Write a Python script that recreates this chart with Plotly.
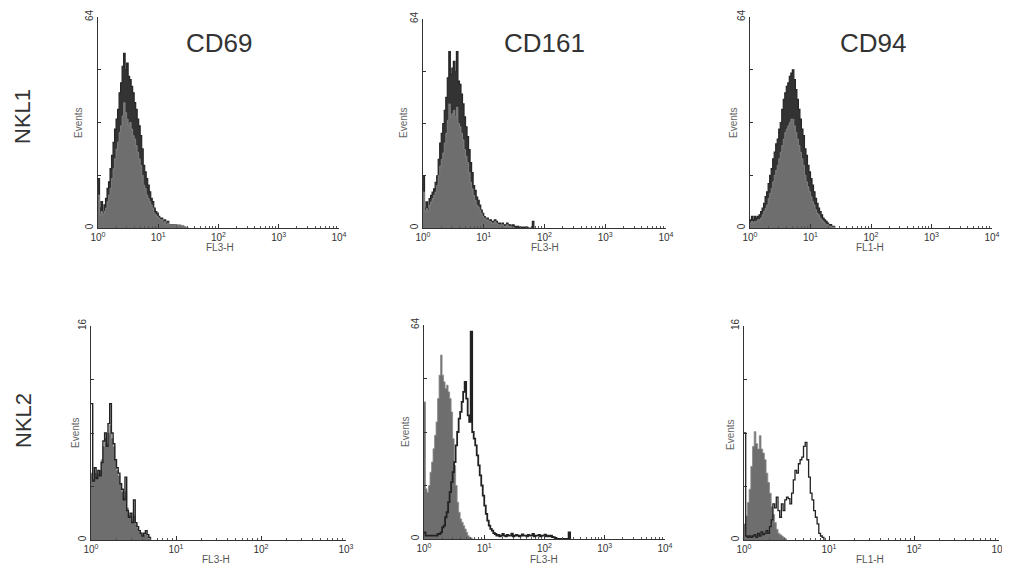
import plotly.graph_objects as go

# the page puts the figure 8px in from the top-left corner of the window
PAGE_PAD = 8
W, H = 1010 - PAGE_PAD, 570 - PAGE_PAD

# channel width in decades (histogram bins start at 10^0)
STEP_4DEC = 0.025
STEP_3DEC = 0.02

# ---- NKL1 row (counts per channel) ----
nkl1_cd69_stain = [15, 6, 8, 5, 7, 9, 12, 14, 18, 22, 26, 30, 33, 36, 41, 44, 49, 53, 48, 50,
                   46, 45, 43, 41, 38, 36, 33, 31, 28, 24, 19, 17, 15, 13, 11, 9, 8, 6, 5, 4.5,
                   3.5, 3, 3, 2, 2.5, 1.5, 2, 1, 1, 1, 0.5, 1, 0.5, 0.5, 0.5, 0.3, 0.3, 0, 0, 0, 0]
nkl1_cd69_ctrl = [10, 4, 5, 4, 5, 6, 8, 10, 12, 15, 18, 21, 24, 26, 29, 31, 34, 38, 35, 33,
                  31, 32, 30, 28, 27, 25, 23, 21, 19, 16, 13, 12, 10, 9, 8, 7, 6, 4.5, 4, 3.5,
                  3, 2.5, 2.5, 1.5, 2, 1, 1.5, 1, 1, 1, 1, 1, 1, 1, 1, 0.8, 0.8, 0.5, 0.3, 0, 0]

nkl1_cd161_stain = [16, 6, 8, 6, 9, 10, 11, 12, 14, 16, 21, 26, 29, 32, 36, 40, 46, 54, 47, 49,
                    51, 48, 54, 45, 44, 41, 38, 34, 31, 28, 24, 20, 17, 13, 11.5, 9.5, 8.5, 7, 5.5, 4.5,
                    3.5, 2.5, 3, 2, 2.5, 2, 2, 2.5, 2, 1.5, 1.5, 1, 1.5, 1, 1, 1.5, 1, 1, 0.5, 1,
                    0.5, 0.5, 0.5, 0.3, 0.3, 0.3, 0.3, 0.3, 0.3, 0, 0, 0, 2, 0]
nkl1_cd161_ctrl = [11, 5, 6, 5, 7, 8, 9, 10, 11, 13, 16, 19, 21, 23, 26, 29, 33, 38, 34, 35,
                   36, 34, 37, 32, 31, 29, 27, 24, 22, 20, 17, 14, 12, 10, 8.5, 7, 6.5, 5.5, 4.5, 3.5,
                   3, 2.5, 2.5, 2, 2, 1.5, 1.5, 2, 1.5, 1, 1, 1, 1, 0.5, 0.5, 1, 0.5, 0.5, 0.3, 0.3, 0]

nkl1_cd94_stain = [2.5, 3.5, 2.5, 3.5, 3, 3.5, 4, 5, 6, 7.5, 9.5, 11, 13.5, 16, 18, 21, 23, 25.5, 27, 30,
                   32, 36, 39, 41, 43, 44, 46, 47, 48, 45, 42, 39, 36, 33, 30, 28, 24, 22, 19, 17,
                   15, 13, 11, 9, 7.5, 6, 5, 4, 3, 2.5, 2, 1.5, 1, 1, 0.5, 0.5, 0]
nkl1_cd94_ctrl = [1.5, 2, 1.5, 2, 2, 2.5, 2.5, 3, 4, 5, 6, 7, 9, 10.5, 12, 14, 16, 17.5, 19, 21,
                  23, 25, 27, 29, 30, 31, 32, 33, 33, 31, 29, 27, 25, 23, 21, 19, 16, 14, 12.5, 11,
                  9.5, 8, 7, 5.5, 4.5, 4, 3, 2.5, 2, 1.5, 1, 1, 0.5, 0.5, 0.3, 0.3, 0]

# ---- NKL2 row ----
nkl2_cd69_stain = [10.2, 4.4, 5.4, 4.6, 5.2, 4.8, 5.8, 7.4, 8, 7, 8.7, 10.2, 8, 7.2, 6, 5.4, 5, 4.2,
                   3.8, 3, 4.7, 2.2, 1.7, 2, 1.3, 3, 1.3, 1, 0.7, 0.5, 0.3, 0.5, 0.7, 0.4, 0.2, 0]
nkl2_cd69_ctrl = [5, 4.5, 5, 4.8, 5, 5.2, 6, 7, 7.6, 7.2, 8, 8.6, 7.6, 7, 6, 5.2, 4.8, 4.2,
                  3.6, 3.2, 3.6, 2.4, 1.8, 1.8, 1.4, 1.8, 1.2, 0.9, 0.6, 0.5, 0.3, 0.4, 0.5, 0.3, 0.1, 0]

nkl2_cd161_stain = [2, 1, 1, 1, 1, 1, 1, 1, 1, 1.5, 1.5, 2, 3.5, 4, 6.5, 8, 11, 14, 17, 20,
                    23, 28, 32, 36, 38, 41, 44, 47, 42, 37, 35, 62, 32, 30, 28, 25, 22, 19, 16, 13,
                    10, 7.5, 5.5, 4, 3, 2.5, 1.8, 1.5, 1, 1.2, 0.8, 1, 1.5, 1, 0.8, 1.2, 1, 1,
                    1.6, 0.8, 1, 1.2, 1, 0.8, 1, 1.4, 1, 1, 0.8, 1.2, 1, 1, 1.5, 0.8, 1, 1,
                    1.2, 0.8, 1, 1, 1.3, 0.8, 1, 0.8, 1, 0.6, 0.5, 0.3, 0, 0, 0, 0, 0, 0, 0, 0,
                    2, 0]
nkl2_cd161_ctrl = [41, 15, 14, 16, 20, 23, 27, 31, 35, 42, 49, 55, 49, 47, 45, 46, 44, 42, 38, 30,
                   22, 16, 11, 8, 6, 5, 4, 3, 2, 1, 0.5, 0.3, 0]

nkl2_cd94_stain = [8, 0.3, 0.2, 0.3, 0.2, 0.3, 0.4, 0.2, 0.5, 0.3, 0.6, 0.4, 0.5, 0.7, 0.5, 1, 1.5, 2.7,
                   2.4, 3.2, 2.2, 1.7, 2.7, 2.2, 3, 3.2, 3.1, 2.7, 3.5, 4.5, 5.2, 5, 5.7, 6, 6.2, 7,
                   7.3, 6, 4.7, 3.5, 3, 2.2, 1.7, 1.2, 0.5, 0.3, 0.2, 0]
nkl2_cd94_ctrl = [1.2, 1.8, 2.8, 3.8, 5.5, 7, 8.1, 7.2, 6.8, 7.8, 6.8, 6.5, 6, 5, 4.3, 3.5, 2.5, 1.9,
                  1.3, 0.8, 0.5, 0.4, 0.3, 0.2, 0.1, 0]

col_titles = ["CD69", "CD161", "CD94"]
row_titles = ["NKL1", "NKL2"]

# panel boxes in window pixels: left, right, top, bottom
panels = [
    dict(box=(98, 339, 17, 228), dec=4, ymax=64, step=STEP_4DEC, stain=nkl1_cd69_stain,
         ctrl=nkl1_cd69_ctrl, xt="FL3-H", style="dense", ev=(79, 123), xl=(220, 248), lw=1.2),
    dict(box=(423, 666, 19, 228), dec=4, ymax=64, step=STEP_4DEC, stain=nkl1_cd161_stain,
         ctrl=nkl1_cd161_ctrl, xt="FL3-H", style="dense", ev=(404, 123), xl=(545, 248), lw=1.2),
    dict(box=(750, 992, 17, 228), dec=4, ymax=64, step=STEP_4DEC, stain=nkl1_cd94_stain,
         ctrl=nkl1_cd94_ctrl, xt="FL1-H", style="dense", ev=(734, 123), xl=(870, 248), lw=1.2),
    dict(box=(91, 346, 326, 540), dec=3, ymax=16, step=STEP_3DEC, stain=nkl2_cd69_stain,
         ctrl=nkl2_cd69_ctrl, xt="FL3-H", style="line", ev=(75, 433), xl=(216, 559), lw=1.4),
    dict(box=(424, 665, 325, 539), dec=4, ymax=64, step=STEP_4DEC, stain=nkl2_cd161_stain,
         ctrl=nkl2_cd161_ctrl, xt="FL3-H", style="line", ev=(405, 432), xl=(544, 559), lw=1.8),
    dict(box=(744, 999, 326, 540), dec=3, ymax=16, step=STEP_3DEC, stain=nkl2_cd94_stain,
         ctrl=nkl2_cd94_ctrl, xt="FL1-H", style="line", ev=(730, 435), xl=(870, 559), lw=1.3),
]

FONT = "Arial, Liberation Sans, sans-serif"


def px_x(v):
    return (v - PAGE_PAD) / W


def px_y(v):
    return 1 - (v - PAGE_PAD) / H


def label(x, y, text, size, color, angle=0):
    return dict(x=px_x(x), y=px_y(y), xref="paper", yref="paper", text=text,
                xanchor="center", yanchor="middle", textangle=angle, showarrow=False,
                font=dict(family=FONT, size=size, color=color))


fig = go.Figure()
annotations = []

for i, p in enumerate(panels):
    n = "" if i == 0 else str(i + 1)
    xa, ya = "x" + n, "y" + n
    left, right, top, bottom = p["box"]

    def chans(counts, step=p["step"]):
        return [10 ** (k * step) for k in range(len(counts))]

    if p["style"] == "dense":
        fig.add_trace(go.Scatter(
            x=chans(p["stain"]), y=p["stain"], mode="lines", line_shape="hv",
            line=dict(color="#262626", width=p["lw"]), fill="tozeroy", fillcolor="#333333",
            xaxis=xa, yaxis=ya, showlegend=False, hoverinfo="skip"))
        fig.add_trace(go.Scatter(
            x=chans(p["ctrl"]), y=p["ctrl"], mode="lines", line_shape="hv",
            line=dict(color="#8a8a8a", width=0.8), fill="tozeroy", fillcolor="#6e6e6e",
            xaxis=xa, yaxis=ya, showlegend=False, hoverinfo="skip"))
    else:
        fig.add_trace(go.Scatter(
            x=chans(p["ctrl"]), y=p["ctrl"], mode="lines", line_shape="hv",
            line=dict(color="#8a8a8a", width=0.8), fill="tozeroy", fillcolor="#6e6e6e",
            xaxis=xa, yaxis=ya, showlegend=False, hoverinfo="skip"))
        fig.add_trace(go.Scatter(
            x=chans(p["stain"]), y=p["stain"], mode="lines", line_shape="hv",
            line=dict(color="#222222", width=p["lw"]),
            xaxis=xa, yaxis=ya, showlegend=False, hoverinfo="skip"))

    dec = p["dec"]
    major = [10 ** k for k in range(dec + 1)]
    minor = [m * 10 ** k for k in range(dec) for m in range(2, 10)]
    fig.update_layout(**{
        "xaxis" + n: dict(
            type="log", range=[0, dec], domain=[px_x(left), px_x(right)], anchor=ya,
            showline=True, linecolor="#333333", linewidth=1, showgrid=False, zeroline=False,
            ticks="inside", ticklen=4, tickcolor="#333333", tickvals=major,
            ticktext=["10<sup>%d</sup>" % k for k in range(dec + 1)],
            tickfont=dict(family=FONT, size=10, color="#333333"), ticklabeloverflow="allow",
            minor=dict(tickvals=minor, ticks="inside", ticklen=2, tickcolor="#555555"),
            automargin=False, fixedrange=True),
        "yaxis" + n: dict(
            range=[0, p["ymax"]], domain=[px_y(bottom), px_y(top)], anchor=xa,
            showline=True, linecolor="#333333", linewidth=1, showgrid=False, zeroline=False,
            ticks="inside", ticklen=3, tickcolor="#333333",
            tickvals=[0, p["ymax"] / 4, p["ymax"] / 2, 3 * p["ymax"] / 4, p["ymax"]],
            ticktext=["0", " ", " ", " ", str(p["ymax"])], tickangle=-90,
            tickfont=dict(family=FONT, size=10, color="#333333"),
            automargin=False, fixedrange=True),
    })

    annotations.append(label(*p["ev"], "Events", 10, "#666666", -90))
    annotations.append(label(*p["xl"], p["xt"], 10, "#555555"))

for title, cx in zip(col_titles, [219, 544, 873]):
    annotations.append(label(cx, 43, title, 26, "#333333"))
for title, cy in zip(row_titles, [117, 421]):
    annotations.append(label(23, cy, title, 22, "#333333", -90))

fig.update_layout(
    width=W, height=H, margin=dict(l=0, r=0, t=0, b=0, autoexpand=False),
    paper_bgcolor="white", plot_bgcolor="white",
    annotations=annotations, showlegend=False,
)

fig.write_html("out.html")
